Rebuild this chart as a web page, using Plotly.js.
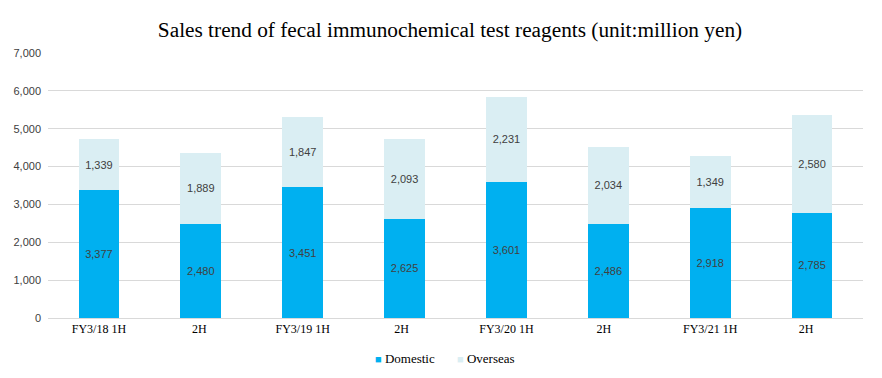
<!DOCTYPE html>
<html><head><meta charset="utf-8">
<script src="https://cdn.plot.ly/plotly-3.0.1.min.js"></script>
<style>html,body{margin:0;padding:0;background:#fff}#chart{width:882px;height:378px}</style>
</head><body><div id="chart"></div>
<script>
const categories = ["FY3/18 1H", "2H ", "FY3/19 1H", "2H  ", "FY3/20 1H", "2H   ", "FY3/21 1H", "2H    "];
const domestic = [3377, 2480, 3451, 2625, 3601, 2486, 2918, 2785];
const overseas = [1339, 1889, 1847, 2093, 2231, 2034, 1349, 2580];
const yTicks = [0, 1000, 2000, 3000, 4000, 5000, 6000, 7000];
const seriesNames = ["Domestic", "Overseas"];
const seriesColors = ["#00B0F0", "#DAEEF3"];

const fmt = v => v.toLocaleString('en-US');
const labelFont = {family: "Liberation Sans, Arial, sans-serif", size: 11, color: "#404040"};
const serif = "Liberation Serif, Times New Roman, serif";

const traces = [domestic, overseas].map((vals, i) => ({
  type: "bar", name: seriesNames[i], x: categories, y: vals,
  marker: {color: seriesColors[i]}, text: vals.map(fmt), textposition: "inside",
  insidetextanchor: "middle", textfont: labelFont, hoverinfo: "skip", showlegend: false
}));

const legendAnnots = [0.438, 0.537].map((x, idx) => ({
  xref: "paper", yref: "paper", x: x, y: -0.151, xanchor: "center", yanchor: "middle",
  showarrow: false,
  text: "<span style='color:" + seriesColors[idx] + ";font-size:11px'>■</span> " +
        "<span style='font-family:\"Liberation Serif\", serif'>" + seriesNames[idx] + "</span>",
  font: {family: serif, size: 13, color: "#000"}
}));

const layout = {
  width: 882, height: 378,
  margin: {l: 48, r: 19, t: 53, b: 60, autoexpand: false},
  barmode: "stack", bargap: 0.6,
  paper_bgcolor: "#fff", plot_bgcolor: "#fff",
  title: {text: "Sales trend of fecal immunochemical test reagents (unit:million yen)",
          font: {family: serif, size: 21.3, color: "#000"},
          x: 450 / 882, xanchor: "center", yref: "container", y: 1 - 30 / 378, yanchor: "middle"},
  xaxis: {type: "category", showgrid: false, showline: true, linecolor: "#D9D9D9", linewidth: 1,
          ticks: "", tickfont: {family: serif, size: 12, color: "#000"}},
  yaxis: {range: [0, 7000], tickvals: yTicks, ticktext: yTicks.map(fmt), showgrid: true,
          gridcolor: "#D9D9D9", gridwidth: 1, zeroline: false, showline: false, ticks: "",
          ticklabelstandoff: 6,
          tickfont: {family: "Liberation Sans, Arial, sans-serif", size: 11, color: "#404040"}},
  showlegend: false,
  annotations: legendAnnots
};

Plotly.newPlot("chart", traces, layout, {displayModeBar: false, staticPlot: true});
</script>
</body></html>
